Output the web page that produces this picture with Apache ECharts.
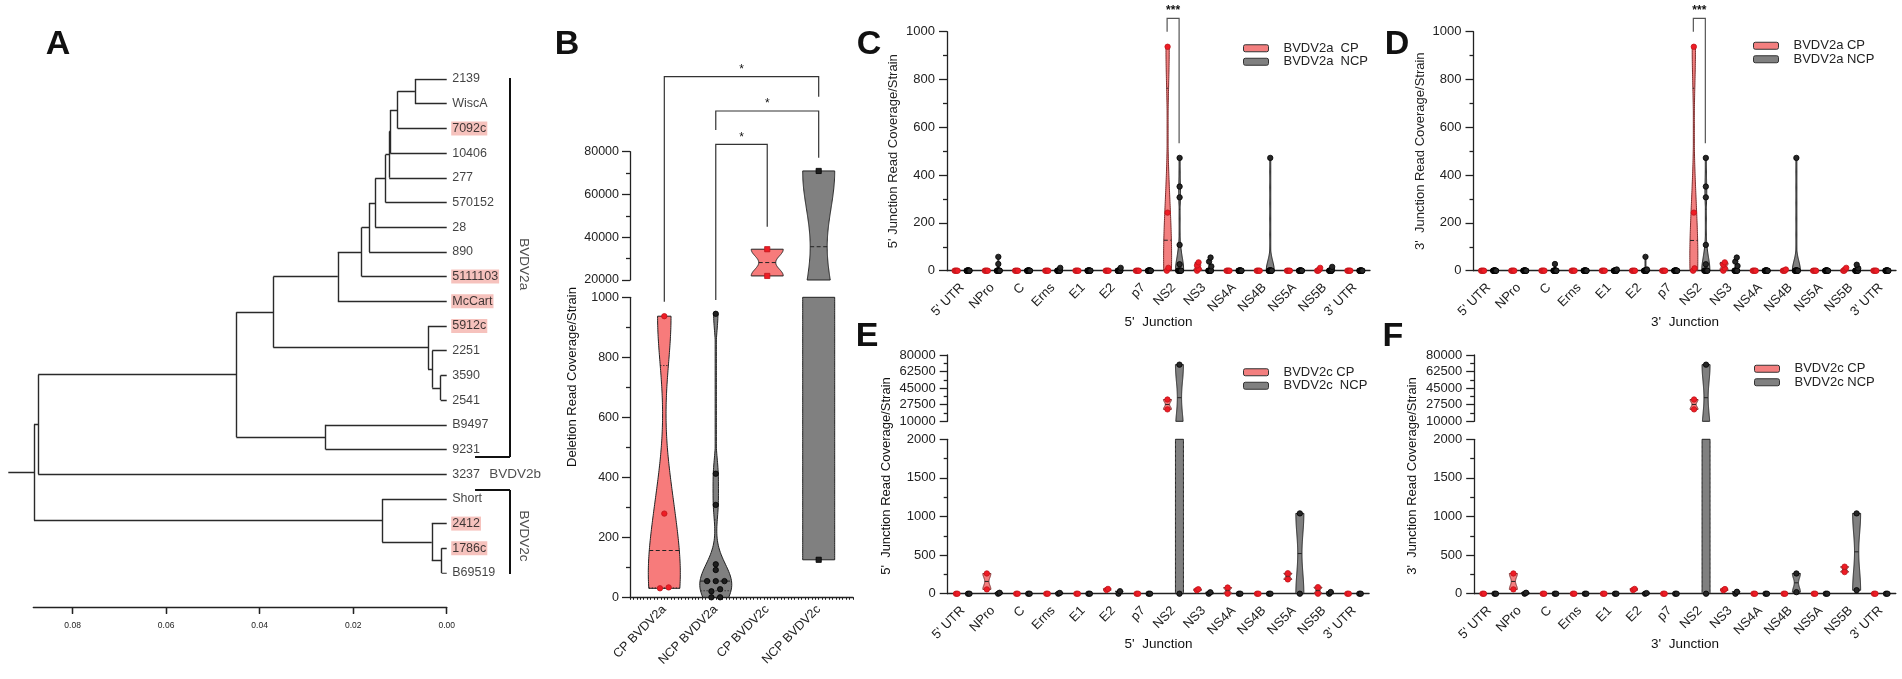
<!DOCTYPE html>
<html>
<head>
<meta charset="utf-8">
<script src="https://cdn.jsdelivr.net/npm/echarts@6/dist/echarts.min.js"></script>
<style>
html, body { margin: 0; padding: 0; background: #fff; }
#main { width: 1902px; height: 679px; }
</style>
</head>
<body>
<div id="main"></div>
<script>
// ---------- A: tree ----------
var leaves = ['2139', 'WiscA', '7092c', '10406', '277', '570152', '28', '890', '5111103', 'McCart',
  '5912c', '2251', '3590', '2541', 'B9497', '9231', '3237', 'Short', '2412', '1786c', 'B69519'];
var highlighted = ['7092c', '5111103', 'McCart', '5912c', '2412', '1786c'];
// [node, children, distance from tips]
var treeNodes = [
  ['n1', ['2139', 'WiscA'], 0.0068],
  ['n2', ['n1', '7092c'], 0.0105],
  ['n3', ['n2', '10406'], 0.0121],
  ['n4', ['n3', '277'], 0.0123],
  ['n5', ['n4', '570152'], 0.0131],
  ['n6', ['n5', '28'], 0.0153],
  ['n7', ['n6', '890'], 0.0166],
  ['n8', ['n7', '5111103'], 0.0182],
  ['n9', ['n8', 'McCart'], 0.0233],
  ['m1', ['3590', '2541'], 0.0013],
  ['m2', ['2251', 'm1'], 0.0031],
  ['m3', ['5912c', 'm2'], 0.0040],
  ['n10', ['n9', 'm3'], 0.0371],
  ['k1', ['B9497', '9231'], 0.0259],
  ['n11', ['n10', 'k1'], 0.0450],
  ['n12', ['n11', '3237'], 0.0874],
  ['c1', ['1786c', 'B69519'], 0.0011],
  ['c2', ['2412', 'c1'], 0.0032],
  ['c3', ['Short', 'c2'], 0.0138],
  ['root', ['n12', 'c3'], 0.0883]
];
var rootStub = 0.0938;
var clades = [['BVDV2a', '2139', '9231'], ['BVDV2c', 'Short', 'B69519']];
var loneClade = ['BVDV2b', '3237'];
var scaleTicks = [0, 0.02, 0.04, 0.06, 0.08];

// ---------- B ----------
var groupsB = ['CP BVDV2a', 'NCP BVDV2a', 'CP BVDV2c', 'NCP BVDV2c'];
var cpB2a = [937, 279, 30, 33];
var ncpB2a = [945, 412, 308, 110, 91, 54, 54, 54, 27, 20, 0, 0];
var cpB2c = [34400, 21900];
var ncpB2c = [71000, 125];

// ---------- C-F ----------
var genes = ["5' UTR", 'NPro', 'C', 'Erns', 'E1', 'E2', 'p7', 'NS2', 'NS3', 'NS4A', 'NS4B', 'NS5A', 'NS5B', "3' UTR"];
var cp5a = [[0,0,0,0],[0,0,0,0],[0,0,0,0],[0,0,0,0],[0,0,0,0],[0,0,0,0],[0,0,0,0],
  [937,243,12,0],[35,22,8,0],[0,0,0,0],[0,0,0,0],[0,0,0,0],[12,4,0,0],[0,0,0,0]];
var ncp5a = [[0,0,0,0,0,0,0,0,0,0,0,0],[58,28,0,0,0,0,0,0,0,0,0,0],[0,0,0,0,0,0,0,0,0,0,0,0],
  [12,0,0,0,0,0,0,0,0,0,0,0],[0,0,0,0,0,0,0,0,0,0,0,0],[12,0,0,0,0,0,0,0,0,0,0,0],
  [0,0,0,0,0,0,0,0,0,0,0,0],[472,352,307,108,27,0,0,0,0,0,0,0],[55,38,18,0,0,0,0,0,0,0,0,0],
  [0,0,0,0,0,0,0,0,0,0,0,0],[472,0,0,0,0,0,0,0,0,0,0,0],[0,0,0,0,0,0,0,0,0,0,0,0],
  [16,5,0,0,0,0,0,0,0,0,0,0],[0,0,0,0,0,0,0,0,0,0,0,0]];
var cp3a = [[0,0,0,0],[0,0,0,0],[0,0,0,0],[0,0,0,0],[0,0,0,0],[0,0,0,0],[0,0,0,0],
  [937,243,10,0],[35,25,10,0],[0,0,0,0],[5,0,0,0],[0,0,0,0],[12,6,0,0],[0,0,0,0]];
var ncp3a = [[0,0,0,0,0,0,0,0,0,0,0,0],[0,0,0,0,0,0,0,0,0,0,0,0],[28,0,0,0,0,0,0,0,0,0,0,0],
  [0,0,0,0,0,0,0,0,0,0,0,0],[5,0,0,0,0,0,0,0,0,0,0,0],[58,5,0,0,0,0,0,0,0,0,0,0],
  [0,0,0,0,0,0,0,0,0,0,0,0],[472,352,307,108,27,0,0,0,0,0,0,0],[55,38,20,0,0,0,0,0,0,0,0,0],
  [0,0,0,0,0,0,0,0,0,0,0,0],[472,0,0,0,0,0,0,0,0,0,0,0],[0,0,0,0,0,0,0,0,0,0,0,0],
  [25,10,0,0,0,0,0,0,0,0,0,0],[0,0,0,0,0,0,0,0,0,0,0,0]];
var cp5c = [[0,0],[262,56],[0,0],[0,0],[0,0],[48,62],[0,0],[33000,22600],[45,58],[80,0],[0,0],[265,185],[85,0],[0,0]];
var ncp5c = [[0,0],[0,12],[0,0],[0,10],[0,0],[0,32],[0,0],[69800,0],[0,18],[0,0],[0,0],[1040,0],[0,22],[0,0]];
var cp3c = [[0,0],[262,56],[0,0],[0,0],[0,0],[48,62],[0,0],[33000,22600],[45,60],[0,0],[0,0],[0,0],[350,280],[0,0]];
var ncp3c = [[0,0],[0,12],[0,0],[0,0],[0,0],[0,8],[0,0],[69800,0],[0,25],[0,0],[262,20],[0,0],[1040,45],[0,0]];

var FONT = '"Liberation Sans", Arial, sans-serif';
var INK = '#222';
var CP_FILL = '#f77b7b', NCP_FILL = '#808080';
var CP_DOT = '#ee1c25', NCP_DOT = '#1e1e1e';
var HL = '#f4b3ad';

var chart = echarts.init(document.getElementById('main'));

// ---- violin helpers ----
function stats(vals) {
  var s = vals.slice().sort(function (a, b) { return a - b; });
  var n = s.length;
  function q(p) {
    var pos = (n + 1) * p;
    if (pos <= 1) return s[0];
    if (pos >= n) return s[n - 1];
    var k = Math.floor(pos), f = pos - k;
    return s[k - 1] + f * (s[k] - s[k - 1]);
  }
  var mean = s.reduce(function (a, b) { return a + b; }, 0) / n;
  var sd = n > 1 ? Math.sqrt(s.reduce(function (a, v) { return a + (v - mean) * (v - mean); }, 0) / (n - 1)) : 0;
  var st = { vals: s, lo: s[0], hi: s[n - 1], q1: q(0.25), q3: q(0.75), med: q(0.5), peak: 0 };
  var iqr = st.q3 - st.q1;
  st.h = 0.5 * (iqr > 0 ? Math.min(sd, iqr / 1.34) : sd) * Math.pow(n, -0.2);
  if (st.hi > st.lo && st.h > 0) {
    for (var j = 0; j <= 400; j++) st.peak = Math.max(st.peak, dens(st, st.lo + (st.hi - st.lo) * j / 400));
  }
  return st;
}
function dens(st, y) {
  var d = 0;
  st.vals.forEach(function (v) { var z = (y - v) / st.h; d += Math.exp(-0.5 * z * z); });
  return d;
}
function swarm(pts, o) {
  pts.sort(function (p, q) { return q.y - p.y; });
  var rows = [];
  pts.forEach(function (p) {
    var r = rows[rows.length - 1];
    if (r && Math.abs(r[0].y - p.y) < o.rowD) r.push(p); else rows.push([p]);
  });
  rows.forEach(function (r) {
    var k = r.length, step = k > 1 ? Math.min(o.step, o.span / (k - 1)) : 0;
    r.sort(function (p, q) { return p.v - q.v; });
    r.forEach(function (p, j) { p.dx = (j - (k - 1) / 2) * step; });
  });
}
function violinSeries(c) {
  var st = c.groups.map(function (g) { return g ? stats(g) : null; });
  var data = [];
  st.forEach(function (g, i) { if (g) data.push([i, g.lo, g.hi]); });
  return {
    type: 'custom', name: c.name, xAxisIndex: c.x, yAxisIndex: c.y, silent: true, z: c.z || 3,
    itemStyle: { color: c.fill, borderColor: c.stroke, borderWidth: 1 },
    data: data, encode: { x: 0, y: [1, 2] },
    renderItem: function (params, api) {
      var i = api.value(0), g = st[i];
      var cx = api.coord([i, c.ymin])[0] + c.off;
      var kids = [];
      function half(v) { return Math.max(c.minW, c.halfW * dens(g, v) / g.peak); }
      if (g.hi > g.lo && g.h > 0) {
        var a = Math.max(g.lo, c.ymin), b = Math.min(g.hi, c.ymax);
        if (a < b) {
          var L = [], R = [];
          for (var j = 0; j <= 120; j++) {
            var v = a + (b - a) * j / 120, w = half(v), py = api.coord([i, v])[1];
            L.push([cx - w, py]); R.unshift([cx + w, py]);
          }
          kids.push({ type: 'polygon', shape: { points: L.concat(R) },
            style: { fill: c.fill, stroke: c.stroke, lineWidth: 1 } });
          [[g.med, [4, 2.5]], [g.q1, [1.2, 1.8]], [g.q3, [1.2, 1.8]]].forEach(function (m) {
            if (m[0] > a && m[0] < b) {
              var w = half(m[0]), py = api.coord([i, m[0]])[1];
              kids.push({ type: 'line', shape: { x1: cx - w, y1: py, x2: cx + w, y2: py },
                style: { stroke: INK, lineWidth: 1, lineDash: m[1] } });
            }
          });
        }
      }
      var pts = [];
      g.vals.forEach(function (v) {
        if (v >= c.ymin && v <= c.ymax) pts.push({ v: v, y: api.coord([i, v])[1] });
      });
      swarm(pts, c.swarm);
      pts.forEach(function (p) {
        if (c.square) {
          kids.push({ type: 'rect', shape: { x: cx + p.dx - c.r, y: p.y - c.r, width: 2 * c.r, height: 2 * c.r },
            style: { fill: c.dot, stroke: c.dotStroke, lineWidth: 0.8 } });
        } else {
          kids.push({ type: 'circle', shape: { cx: cx + p.dx, cy: p.y, r: c.r },
            style: { fill: c.dot, stroke: c.dotStroke, lineWidth: 0.8 } });
        }
      });
      return { type: 'group', children: kids };
    }
  };
}

// ---- tree geometry from node list ----
var yOf = {}, hOf = {};
leaves.forEach(function (l, i) { yOf[l] = i; hOf[l] = 0; });
var treeSegs = [];
treeNodes.forEach(function (nd) {
  var ys = nd[1].map(function (k) { return yOf[k]; });
  var y0 = Math.min.apply(null, ys), y1 = Math.max.apply(null, ys);
  yOf[nd[0]] = (y0 + y1) / 2; hOf[nd[0]] = nd[2];
  treeSegs.push([[nd[2], y0], [nd[2], y1]]);
  nd[1].forEach(function (k) { treeSegs.push([[hOf[k], yOf[k]], [nd[2], yOf[k]]]); });
});
treeSegs.push([[hOf.root, yOf.root], [rootStub, yOf.root]]);

var BRK_X = -0.01354, BRK_TIP = -0.00606, CLADE_LX = -0.0164, LONE_LX = -0.0090;
var bracketSegs = [], cladeLabels = [];
clades.forEach(function (c) {
  var t = yOf[c[1]] - 0.36, b = yOf[c[2]] + 0.3;
  bracketSegs.push([[BRK_X, t], [BRK_X, b]], [[BRK_TIP, t], [BRK_X, t]], [[BRK_TIP, b], [BRK_X, b]]);
  cladeLabels.push({ name: c[0], value: [CLADE_LX, (yOf[c[1]] + yOf[c[2]]) / 2] });
});

// ---- axes ----
var lineSt = { color: INK, width: 1.3 };
var txt = { fontFamily: FONT, color: INK };
function fmtPlain(v) { return String(v); }
function valAxis(gi, min, max, interval, o) {
  o = o || {};
  return {
    gridIndex: gi, type: 'value', min: min, max: max, interval: interval,
    axisLine: { show: true, onZero: false, lineStyle: lineSt },
    axisTick: { show: true, length: o.tick || 8, lineStyle: lineSt },
    minorTick: { show: true, splitNumber: 2, length: o.minor || 4, lineStyle: lineSt },
    splitLine: { show: false }, minorSplitLine: { show: false },
    axisLabel: Object.assign({ fontSize: o.fs || 13, margin: o.margin || 12, formatter: fmtPlain }, txt),
    name: o.name, nameLocation: 'middle', nameGap: o.nameGap, nameRotate: 90,
    nameTextStyle: Object.assign({ fontSize: 13 }, txt)
  };
}
function hidden(gi, type, extra) {
  return Object.assign({ gridIndex: gi, type: type, show: false, axisLine: { onZero: false } }, extra || {});
}
function catAxis(gi, cats, size, margin) {
  return {
    gridIndex: gi, type: 'category', data: cats, boundaryGap: true, position: 'bottom',
    axisLine: { show: true, onZero: false, lineStyle: lineSt },
    axisTick: { alignWithLabel: true, length: 9, lineStyle: lineSt },
    axisLabel: Object.assign({ interval: 0, rotate: 45, fontSize: size, margin: margin }, txt),
    splitLine: { show: false }
  };
}
var bLabelAxis = catAxis(4, groupsB, 12.5, 10);
bLabelAxis.axisLine.show = false;

var xAxes = [
  hidden(0, 'value', { inverse: true, min: -0.02, max: rootStub }),                 // 0 tree
  { gridIndex: 1, type: 'value', inverse: true, min: 0, max: 0.0884, position: 'bottom',   // 1 scale
    axisLine: { show: true, onZero: false, lineStyle: lineSt },
    axisTick: { show: true, length: 7, customValues: scaleTicks, lineStyle: lineSt },
    axisLabel: Object.assign({ fontSize: 8.5, margin: 14, customValues: scaleTicks,
      formatter: function (v) { return v.toFixed(2); } }, txt), splitLine: { show: false } },
  { gridIndex: 1, type: 'value', inverse: true, min: 0, max: 0.0884, position: 'top',      // 2 scale (upper ticks)
    axisLine: { show: false }, axisLabel: { show: false }, splitLine: { show: false },
    axisTick: { show: true, inside: true, length: 6.5, customValues: scaleTicks, lineStyle: lineSt } },
  hidden(2, 'value', { min: -2 / 3, max: 11 / 3 }),                                  // 3 B upper
  { gridIndex: 3, type: 'value', min: -2 / 3, max: 11 / 3, position: 'bottom',        // 4 B lower
    axisLine: { show: true, onZero: false, lineStyle: lineSt }, axisTick: { show: false },
    axisLabel: { show: false }, splitLine: { show: false } },
  { gridIndex: 3, type: 'value', min: 0, max: 65, interval: 1, position: 'bottom',    // 5 B dotted ticks
    axisLine: { show: false }, axisLabel: { show: false }, splitLine: { show: false },
    axisTick: { show: true, length: 2.5, lineStyle: { color: INK, width: 1 } } },
  bLabelAxis,                                                                        // 6 B labels
  catAxis(5, genes, 13, 15),                                                         // 7 C
  catAxis(6, genes, 13, 15),                                                         // 8 D
  hidden(7, 'category', { data: genes }),                                            // 9 E upper
  catAxis(8, genes, 13, 15),                                                         // 10 E lower
  hidden(9, 'category', { data: genes }),                                            // 11 F upper
  catAxis(10, genes, 13, 15)                                                         // 12 F lower
];
var yAxes = [
  hidden(0, 'value', { inverse: true, min: 0, max: leaves.length - 1 }),            // 0
  hidden(1, 'value', { min: 0, max: 1 }),                                            // 1
  valAxis(2, 20000, 80000, 20000, { fs: 12.5, margin: 11 }),                        // 2 B upper
  valAxis(3, 0, 1000, 200, { fs: 12.5, margin: 11 }),                               // 3 B lower
  hidden(4, 'value', { min: 0, max: 1 }),                                            // 4
  valAxis(5, 0, 1000, 200, { name: "5' Junction Read Coverage/Strain", nameGap: 47 }),  // 5 C
  valAxis(6, 0, 1000, 200, { name: "3'  Junction Read Coverage/Strain", nameGap: 47 }), // 6 D
  valAxis(7, 10000, 80000, 17500, {}),                                               // 7 E upper
  valAxis(8, 0, 2000, 500, {}),                                                      // 8 E lower
  valAxis(9, 10000, 80000, 17500, {}),                                               // 9 F upper
  valAxis(10, 0, 2000, 500, {})                                                      // 10 F lower
];

// ---- series ----
var series = [
  { type: 'lines', coordinateSystem: 'cartesian2d', xAxisIndex: 0, yAxisIndex: 0, silent: true,
    lineStyle: { color: '#2a2a2a', width: 1.4, opacity: 1 },
    data: treeSegs.map(function (s) { return { coords: s }; }) },
  { type: 'lines', coordinateSystem: 'cartesian2d', xAxisIndex: 0, yAxisIndex: 0, silent: true,
    lineStyle: { color: '#111', width: 2, opacity: 1 },
    data: bracketSegs.map(function (s) { return { coords: s }; }) },
  { type: 'scatter', xAxisIndex: 0, yAxisIndex: 0, silent: true, symbolSize: 1, clip: false,
    itemStyle: { color: 'rgba(0,0,0,0)' },
    label: Object.assign({ show: true, position: 'right', distance: 4, formatter: '{b}', fontSize: 12.5,
      padding: [1, 1, 0, 1] }, txt, { color: '#111' }),
    data: leaves.map(function (l, i) {
      var d = { name: l, value: [0, i] };
      if (highlighted.indexOf(l) >= 0) d.label = { backgroundColor: HL };
      return d;
    }) },
  { type: 'scatter', xAxisIndex: 0, yAxisIndex: 0, silent: true, symbolSize: 1, clip: false,
    itemStyle: { color: 'rgba(0,0,0,0)' },
    label: Object.assign({ show: true, position: 'inside', rotate: -90, formatter: '{b}', fontSize: 13.5 }, txt),
    data: cladeLabels },
  { type: 'scatter', xAxisIndex: 0, yAxisIndex: 0, silent: true, symbolSize: 1, clip: false,
    itemStyle: { color: 'rgba(0,0,0,0)' },
    label: Object.assign({ show: true, position: 'right', distance: 0, formatter: '{b}', fontSize: 13.5 }, txt),
    data: [{ name: loneClade[0], value: [LONE_LX, yOf[loneClade[1]]] }] }
];

// B violins
var bStyle = [
  { vals: cpB2a, fill: CP_FILL, dot: CP_DOT, ds: '#c0141b', sq: false },
  { vals: ncpB2a, fill: NCP_FILL, dot: NCP_DOT, ds: '#000', sq: false },
  { vals: cpB2c, fill: CP_FILL, dot: CP_DOT, ds: '#c0141b', sq: true },
  { vals: ncpB2c, fill: NCP_FILL, dot: NCP_DOT, ds: '#000', sq: true }
];
[[3, 2, 20000, 80000], [4, 3, 0, 1000]].forEach(function (ax) {
  bStyle.forEach(function (s, k) {
    var groups = groupsB.map(function (g, i) { return i === k ? s.vals : null; });
    series.push(violinSeries({
      name: groupsB[k], x: ax[0], y: ax[1], groups: groups, ymin: ax[2], ymax: ax[3],
      off: 0, halfW: 16, minW: 0.6, fill: s.fill, stroke: '#222', dot: s.dot, dotStroke: s.ds,
      r: s.sq ? 2.6 : 2.7, square: s.sq, swarm: { step: 8.7, rowD: 5, span: 40 }
    }));
  });
});

// C-F violins
var panels = [
  { x: [7], y: [5], lim: [[0, 1000]], cp: cp5a, ncp: ncp5a, names: ['BVDV2a  CP', 'BVDV2a  NCP'] },
  { x: [8], y: [6], lim: [[0, 1000]], cp: cp3a, ncp: ncp3a, names: ['BVDV2a CP', 'BVDV2a NCP'] },
  { x: [9, 10], y: [7, 8], lim: [[10000, 80000], [0, 2000]], cp: cp5c, ncp: ncp5c, names: ['BVDV2c CP', 'BVDV2c  NCP'] },
  { x: [11, 12], y: [9, 10], lim: [[10000, 80000], [0, 2000]], cp: cp3c, ncp: ncp3c, names: ['BVDV2c CP', 'BVDV2c NCP'] }
];
panels.forEach(function (p) {
  p.x.forEach(function (xi, s) {
    [[p.cp, p.names[0], -6, '#f37f7f', '#7a2a2a', CP_DOT, '#c0141b'],
     [p.ncp, p.names[1], 6, NCP_FILL, '#222', '#262626', '#000']].forEach(function (g) {
      series.push(violinSeries({
        name: g[1], x: xi, y: p.y[s], groups: g[0], ymin: p.lim[s][0], ymax: p.lim[s][1],
        off: g[2], halfW: 4, minW: 0.5, fill: g[3], stroke: g[4], dot: g[5], dotStroke: g[6],
        r: 2.7, square: false, swarm: { step: 1.5, rowD: 5, span: 3 }
      }));
    });
  });
});

function legendAt(left, top, names) {
  return {
    data: names, left: left, top: top, orient: 'vertical', icon: 'roundRect',
    itemWidth: 25, itemHeight: 7, itemGap: 0, selectedMode: false,
    itemStyle: { borderColor: '#333', borderWidth: 1 },
    textStyle: Object.assign({ fontSize: 13, lineHeight: 13.5, padding: [0, 0, 0, 10] }, txt)
  };
}

var option = {
  animation: false,
  backgroundColor: '#fff',
  grid: [
    { left: 8.3, top: 79, width: 531.9, height: 494 },
    { left: 33.3, top: 600.5, width: 413.4, height: 6.5 },
    { left: 630, top: 151.7, width: 223, height: 128.3 },
    { left: 630, top: 297.3, width: 223, height: 300 },
    { left: 638.5, top: 297.3, width: 206, height: 300 },
    { left: 947, top: 31.7, width: 423, height: 239 },
    { left: 1473.5, top: 31.7, width: 422.5, height: 239 },
    { left: 947.7, top: 355, width: 421.4, height: 66.3 },
    { left: 947.7, top: 439.3, width: 421.4, height: 154.4 },
    { left: 1474.2, top: 355, width: 421.6, height: 66.3 },
    { left: 1474.2, top: 439.3, width: 421.6, height: 154.4 }
  ],
  xAxis: xAxes,
  yAxis: yAxes,
  legend: [
    legendAt(1238, 36.5, panels[0].names),
    legendAt(1748, 34, panels[1].names),
    legendAt(1238, 360.5, panels[2].names),
    legendAt(1749, 357, panels[3].names)
  ],
  series: series
};
chart.setOption(option);

// ---- annotations ----
var gfx = [];
function label(t, x, y, size, extra) {
  gfx.push(Object.assign({ type: 'text', x: x, y: y, silent: true,
    style: { text: t, font: size, fill: '#111', align: 'center', verticalAlign: 'middle' } }, extra || {}));
}
[['A', 58, 45], ['B', 567, 45], ['C', 869, 45], ['D', 1397, 45], ['E', 867, 337], ['F', 1393, 337]]
  .forEach(function (l) { label(l[0], l[1], l[2], 'bold 34px ' + FONT); });
label('Deletion Read Coverage/Strain', 572, 377, '13px ' + FONT, { rotation: Math.PI / 2 });
label("5'  Junction Read Coverage/Strain", 886.7, 476, '13px ' + FONT, { rotation: Math.PI / 2 });
label("3'  Junction Read Coverage/Strain", 1412.7, 476, '13px ' + FONT, { rotation: Math.PI / 2 });
label("5'  Junction", 1158.5, 322, '13.5px ' + FONT);
label("3'  Junction", 1685, 322, '13.5px ' + FONT);
label("5'  Junction", 1158.5, 644.5, '13.5px ' + FONT);
label("3'  Junction", 1685, 644.5, '13.5px ' + FONT);

function bracket(xl, xr, top, lb, rb, star, starY, color, sf) {
  gfx.push({ type: 'polyline', silent: true, shape: { points: [[xl, lb], [xl, top], [xr, top], [xr, rb]] },
    style: { stroke: color, lineWidth: 1.2, fill: null } });
  label(star, (xl + xr) / 2, starY, sf);
}
function bx(i) { return chart.convertToPixel({ xAxisIndex: 3 }, i); }
bracket(bx(0), bx(3), 76.7, 301.7, 96.7, '*', 70, '#333', '12px ' + FONT);
bracket(bx(1), bx(3), 111, 130, 157.7, '*', 104, '#333', '12px ' + FONT);
bracket(bx(1), bx(2), 144.3, 300, 226.7, '*', 137.5, '#333', '12px ' + FONT);
[7, 8].forEach(function (xi) {
  var c = chart.convertToPixel({ xAxisIndex: xi }, 7);
  bracket(c - 6.5, c + 5.5, 18.3, 31.7, 143.3, '***', 11, '#555', 'bold 12px ' + FONT);
});
chart.setOption({ graphic: gfx });
</script>
</body>
</html>
